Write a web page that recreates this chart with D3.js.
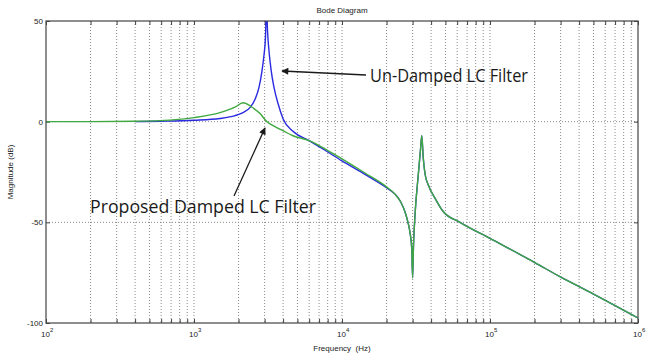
<!DOCTYPE html>
<html>
<head>
<meta charset="utf-8">
<script src="https://cdn.jsdelivr.net/npm/d3@7"></script>
<style>
  body { margin: 0; background: #fff; }
  .tick-label { font-family: "Liberation Sans", Arial, sans-serif; font-size: 8px; fill: #222; }
  .note { font-family: "Open Sans", sans-serif; fill: #1a1a1a; }
</style>
</head>
<body>
<div id="chart"></div>
<script>
// Bode magnitude

// undamped LC filter (blue)
var freqBlue = [400, 589, 1000, 1499, 1892, 2143, 2389, 2582, 2748, 2877, 2970, 3041, 3090,
  3139, 3213, 3314, 3472, 3697, 3994, 4665, 5987, 7674, 10000, 14290, 20000, 22800, 25000,
  26700, 27900, 28800, 29600, 30000, 30400, 31100, 32800, 33900, 34600, 35400, 36400, 38300,
  42500, 48100, 62700, 100000, 201000, 297000, 497000, 1000000];
var magBlue = [0, 0.2, 0.7, 1.6, 3, 4.5, 7, 11, 17, 25, 33, 42, 58,
  45, 35, 26, 17, 9, 1.5, -4.8, -9.4, -14.2, -19.5, -26.2, -32.8, -36, -40,
  -45, -50, -55, -63, -77.5, -62, -47, -26, -14, -7, -18, -26, -31.5,
  -38, -44.5, -50, -58, -70, -77, -85.5, -97.5];

// proposed damped LC filter (green)
var freqGreen = [100, 200, 400, 589, 1000, 1499, 1892, 2143, 2250, 2541, 2793, 3112, 3525,
  3994, 4665, 5987, 7674, 10000, 14290, 20000, 22800, 25000, 26700, 27900, 28800, 29600,
  30000, 30400, 31100, 32800, 33900, 34600, 35400, 36400, 38300, 42500, 48100, 62700,
  100000, 201000, 297000, 497000, 1000000];
var magGreen = [0, 0, 0.2, 0.5, 2, 4.5, 7.2, 9.4, 9, 6.5, 4, 0, -2.5,
  -4.5, -7, -9.4, -13.5, -18.5, -25.5, -32.4, -36, -40, -45, -50, -55, -63,
  -77.5, -62, -47, -26, -14, -7, -18, -26, -31.5, -38, -44.5, -50,
  -58, -70, -77, -85.5, -97.5];

var yTicks = [50, 0, -50, -100];
var yGrid = [0, -50];
var xDecades = [1e2, 1e3, 1e4, 1e5, 1e6];

var title = "Bode Diagram";
var xTitle = "Frequency  (Hz)";
var yTitle = "Magnitude (dB)";

var W = 653, H = 354;
var margin = {top: 21, right: 15, bottom: 31, left: 46};
var plotW = W - margin.left - margin.right;
var plotH = H - margin.top - margin.bottom;

var svg = d3.select("#chart").append("svg")
  .attr("width", W)
  .attr("height", H);

var defs = svg.append("defs");
defs.append("clipPath").attr("id", "plot-clip")
  .append("rect").attr("width", plotW).attr("height", plotH);
defs.append("marker")
  .attr("id", "arrow")
  .attr("viewBox", "0 0 10 10")
  .attr("refX", 9).attr("refY", 5)
  .attr("markerWidth", 9).attr("markerHeight", 7)
  .attr("markerUnits", "userSpaceOnUse")
  .attr("orient", "auto")
  .append("path").attr("d", "M0,0L10,5L0,10Z").attr("fill", "#1a1a1a");

var plot = svg.append("g")
  .attr("transform", "translate(" + margin.left + "," + margin.top + ")");

var x = d3.scaleLog().domain([1e2, 1e6]).range([0, plotW]);
var y = d3.scaleLinear().domain([-100, 50]).range([plotH, 0]);

var allX = x.ticks();

// grid
plot.append("g")
  .selectAll("line")
  .data(allX.filter(function(d) { return d > 1e2 && d < 1e6; }))
  .enter().append("line")
  .attr("x1", function(d) { return x(d); })
  .attr("x2", function(d) { return x(d); })
  .attr("y1", 0).attr("y2", plotH)
  .attr("stroke", "#8a8a8a")
  .attr("stroke-width", 1)
  .attr("stroke-dasharray", "1,2");
plot.append("g")
  .selectAll("line")
  .data(yGrid)
  .enter().append("line")
  .attr("x1", 0).attr("x2", plotW)
  .attr("y1", function(d) { return y(d); })
  .attr("y2", function(d) { return y(d); })
  .attr("stroke", "#8a8a8a")
  .attr("stroke-width", 1)
  .attr("stroke-dasharray", "1,2");

// inside ticks, matlab style
function noLabels(axis) { return axis.tickFormat(function() { return ""; }); }
plot.append("g").attr("transform", "translate(0," + plotH + ")")
  .call(noLabels(d3.axisBottom(x).tickValues(allX).tickSizeInner(-4).tickSizeOuter(0)));
plot.append("g")
  .call(noLabels(d3.axisTop(x).tickValues(allX).tickSizeInner(-4).tickSizeOuter(0)));
plot.append("g")
  .call(noLabels(d3.axisLeft(y).tickValues(yTicks).tickSizeInner(-4).tickSizeOuter(0)));
plot.append("g").attr("transform", "translate(" + plotW + ",0)")
  .call(noLabels(d3.axisRight(y).tickValues(yTicks).tickSizeInner(-4).tickSizeOuter(0)));
plot.selectAll(".domain").remove();
plot.selectAll(".tick line").attr("stroke", "#444");

// curves
var line = d3.line()
  .x(function(d) { return x(d[0]); })
  .y(function(d) { return y(d[1]); })
  .curve(d3.curveMonotoneX);

var curves = plot.append("g").attr("clip-path", "url(#plot-clip)");
curves.append("path")
  .datum(d3.zip(freqBlue, magBlue))
  .attr("d", line)
  .attr("fill", "none")
  .attr("stroke", "#2a2ae0")
  .attr("stroke-width", 1.4);
curves.append("path")
  .datum(d3.zip(freqGreen, magGreen))
  .attr("d", line)
  .attr("fill", "none")
  .attr("stroke", "#3fa83f")
  .attr("stroke-width", 1.4);

// frame
plot.append("rect")
  .attr("width", plotW).attr("height", plotH)
  .attr("fill", "none")
  .attr("stroke", "#444")
  .attr("stroke-width", 1.2);

// tick labels
plot.append("g").selectAll("text")
  .data(yTicks)
  .enter().append("text")
  .attr("class", "tick-label")
  .attr("x", -3)
  .attr("y", function(d) { return y(d) + 3; })
  .attr("text-anchor", "end")
  .text(function(d) { return d; });

var xl = plot.append("g").selectAll("text")
  .data(xDecades)
  .enter().append("text")
  .attr("class", "tick-label")
  .attr("x", function(d) { return x(d) - 5; })
  .attr("y", plotH + 14);
xl.append("tspan").text("10");
xl.append("tspan")
  .attr("dy", -5)
  .attr("font-size", "6px")
  .text(function(d) { return Math.round(Math.log10(d)); });

// titles
svg.append("text")
  .attr("class", "tick-label")
  .attr("x", margin.left + plotW / 2)
  .attr("y", 13)
  .attr("text-anchor", "middle")
  .text(title);
svg.append("text")
  .attr("class", "tick-label")
  .attr("x", margin.left + plotW / 2)
  .attr("y", 351)
  .attr("text-anchor", "middle")
  .style("white-space", "pre")
  .text(xTitle);
svg.append("text")
  .attr("class", "tick-label")
  .attr("transform", "translate(13," + (margin.top + plotH / 2) + ") rotate(-90)")
  .attr("text-anchor", "middle")
  .text(yTitle);

// annotations (narrow humanist lettering in the original)
svg.append("line")
  .attr("x1", 366).attr("y1", 75)
  .attr("x2", 282).attr("y2", 71)
  .attr("stroke", "#1a1a1a").attr("stroke-width", 1.3)
  .attr("marker-end", "url(#arrow)");
svg.append("text")
  .attr("class", "note")
  .attr("x", 370).attr("y", 82)
  .attr("font-size", "18px")
  .attr("textLength", 158)
  .attr("lengthAdjust", "spacingAndGlyphs")
  .text("Un-Damped LC Filter");

svg.append("line")
  .attr("x1", 234).attr("y1", 196)
  .attr("x2", 265).attr("y2", 128)
  .attr("stroke", "#1a1a1a").attr("stroke-width", 1.3)
  .attr("marker-end", "url(#arrow)");
svg.append("text")
  .attr("class", "note")
  .attr("x", 90).attr("y", 213)
  .attr("font-size", "18px")
  .attr("textLength", 226)
  .attr("lengthAdjust", "spacingAndGlyphs")
  .text("Proposed Damped LC Filter");
</script>
</body>
</html>
